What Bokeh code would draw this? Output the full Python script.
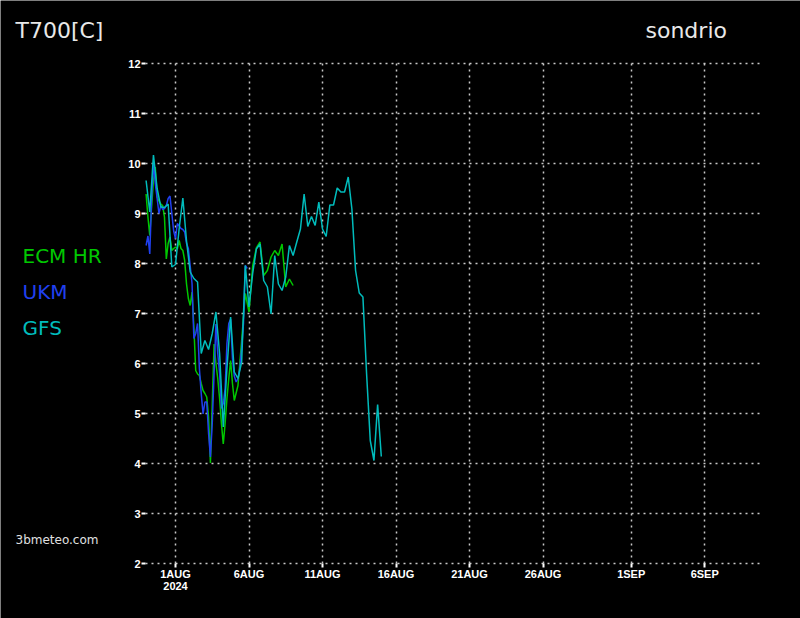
from bokeh.plotting import figure
from bokeh.models import Label, FixedTicker, Range1d, LinearAxis, Grid
from bokeh.embed import file_html
from bokeh.resources import INLINE

# ---- data (hours from 30 Jul 2024 00Z) ----
gfs_hours = list(range(0, 385, 6))
gfs_vals = [9.66, 9.03, 10.17, 9.5, 9.13, 9.12, 9.19, 7.93, 7.98, 8.7,
            9.31, 8.45, 7.83, 7.7, 7.63, 6.2, 6.46, 6.28, 6.6, 7.03,
            6.2, 4.73, 5.9, 6.93, 5.83, 5.7, 6.03, 7.96, 7.13, 7.8,
            8.29, 8.39, 7.66, 7.53, 6.99, 8.16, 7.59, 7.46, 7.73, 8.36,
            8.16, 8.43, 8.69, 9.39, 8.74, 8.94, 8.76, 9.23, 8.69, 8.54,
            9.17, 9.17, 9.51, 9.43, 9.43, 9.73, 9.09, 7.86, 7.41, 7.33,
            5.79, 4.46, 4.06, 5.18, 4.14]

ecm_hours = list(range(0, 145, 3)) + list(range(150, 241, 6))
ecm_vals = [9.39, 8.93, 8.56, 9.13, 9.66, 9.93, 9.33, 9.25, 9.19, 9.16,
            8.93, 8.09, 8.4, 8.53, 8.26, 8.3, 8.33, 8.29, 8.46, 8.3,
            8.26, 8.06, 7.59, 7.3, 7.16, 7.43, 6.73, 5.86, 5.79, 5.76,
            5.6, 5.46, 5.4, 5.33, 4.93, 4.01, 5.2, 6.39, 6.0, 5.7,
            5.3, 4.8, 4.39, 4.8, 5.3, 5.7, 6.06, 5.6, 5.26,
            5.56, 6.46, 7.4, 7.03, 7.95, 8.31, 8.43, 7.76, 7.86, 8.13,
            8.26, 8.16, 8.39, 7.53, 7.69, 7.56]

ukm_hours = list(range(0, 166, 3))
ukm_vals = [8.36, 8.55, 8.19, 9.3, 10.0, 9.6, 9.3, 9.0, 9.16, 9.08,
            9.1, 9.16, 9.3, 9.35, 9.0, 8.65, 8.5, 8.8, 8.75, 8.7,
            8.68, 8.63, 8.4, 8.3, 7.95, 7.6, 6.5, 6.6, 6.8, 5.9,
            5.4, 4.99, 5.23, 5.23, 4.6, 4.13, 4.8, 5.8, 6.79, 6.2,
            5.8, 5.1, 5.2, 5.5, 6.4, 6.8, 6.89, 6.1, 5.75, 5.63,
            5.7, 5.9, 6.3, 6.8, 7.96, 7.9]

tick_days = [0, 5, 10, 15, 20, 25, 31, 36]
tick_labels = ["1AUG", "6AUG", "11AUG", "16AUG", "21AUG", "26AUG", "1SEP", "6SEP"]
year_label = "2024"
y_ticks = [2, 3, 4, 5, 6, 7, 8, 9, 10, 11, 12]

title_text = "T700[C]"
place_text = "sondrio"
site_text = "3bmeteo.com"
series_names = ["ECM HR", "UKM", "GFS"]
series_colors = ["#00c800", "#2040f0", "#00bcbc"]

start_offset_days = -2.0  # 30 Jul relative to 1 Aug


def to_days(hours):
    return [start_offset_days + h / 24.0 for h in hours]


W, H = 800, 618
# plot area on the page: x 145..763 (days -2.04..40), y 63..563 (12..2)
PX_DAY, PX_UNIT = 14.7, 50.0
X0_PAGE, Y2_PAGE = 175.0, 563.0          # page position of day 0 and of value 2
area_x = (-2.04, 40.0)
area_y = (2, 12)
x_rng = Range1d(-X0_PAGE / PX_DAY, (W - X0_PAGE) / PX_DAY)
y_rng = Range1d(2 - (H - Y2_PAGE) / PX_UNIT, 2 + Y2_PAGE / PX_UNIT)

p = figure(width=W, height=H, output_backend="svg", toolbar_location=None,
           x_range=x_rng, y_range=y_rng, x_axis_location=None, y_axis_location=None,
           min_border_left=0, min_border_right=0, min_border_top=0, min_border_bottom=0)
p.background_fill_color = "black"
p.border_fill_color = "black"
p.outline_line_color = None
p.grid.visible = False

tick_font = "Liberation Sans Narrow, Liberation Sans, sans-serif"


def style_axis(ax):
    ax.axis_line_color = None
    ax.major_tick_line_color = "white"
    ax.major_tick_line_width = 2
    ax.minor_tick_line_color = None
    ax.major_tick_in = 0
    ax.major_tick_out = 4
    ax.major_label_text_color = "white"
    ax.major_label_text_font = tick_font
    ax.major_label_text_font_style = "bold"
    ax.major_label_text_font_size = "11px"


yax = LinearAxis(fixed_location=area_x[0], ticker=FixedTicker(ticks=y_ticks))
style_axis(yax)
yax.major_label_standoff = 1
p.add_layout(yax, "left")

xax = LinearAxis(fixed_location=area_y[0], ticker=FixedTicker(ticks=tick_days),
                 major_label_overrides={d: l for d, l in zip(tick_days, tick_labels)})
style_axis(xax)
xax.major_label_standoff = 0
p.add_layout(xax, "below")

grid_style = dict(grid_line_color="#c8c8c8", grid_line_dash="2 4", grid_line_width=1.5)
has_cross = "cross_bounds" in Grid.properties()
if has_cross:
    p.add_layout(Grid(dimension=0, ticker=FixedTicker(ticks=tick_days), cross_bounds=area_y, **grid_style))
    p.add_layout(Grid(dimension=1, ticker=FixedTicker(ticks=y_ticks), cross_bounds=area_x, **grid_style))
else:
    gs = dict(line_color="#c8c8c8", line_dash="2 4", line_width=1.5)
    p.segment(x0=tick_days, x1=tick_days, y0=[area_y[0]] * len(tick_days),
              y1=[area_y[1]] * len(tick_days), **gs)
    p.segment(x0=[area_x[0]] * len(y_ticks), x1=[area_x[1]] * len(y_ticks),
              y0=y_ticks, y1=y_ticks, **gs)

p.line(to_days(ecm_hours), ecm_vals, line_color=series_colors[0], line_width=1.5)
p.line(to_days(ukm_hours), ukm_vals, line_color=series_colors[1], line_width=1.5)
p.line(to_days(gfs_hours), gfs_vals, line_color=series_colors[2], line_width=1.5)


def add_text(page_x, page_y, text, color, font, size, style="normal", align="left"):
    # frame covers the whole canvas: screen y is measured from the bottom
    p.add_layout(Label(x=page_x, y=H - page_y, x_units="screen", y_units="screen",
                       text=text, text_color=color, text_font=font, text_font_size=size,
                       text_font_style=style, text_align=align, text_baseline="middle"))


big_font = "DejaVu Sans ExtraLight, DejaVu Sans, sans-serif"
add_text(15, 30, title_text, "#e8e8e8", big_font, "22px")
add_text(645, 30, place_text, "#e8e8e8", big_font, "22px")
for name, col, yy in zip(series_names, series_colors, [255, 291, 327]):
    add_text(22, yy, name, col, big_font, "20px")
add_text(15, 539, site_text, "#e0e0e0", "DejaVu Sans", "12px")
add_text(175, 585, year_label, "white", tick_font, "11px", style="bold", align="center")

open("out.html", "w").write(file_html(p, INLINE))
